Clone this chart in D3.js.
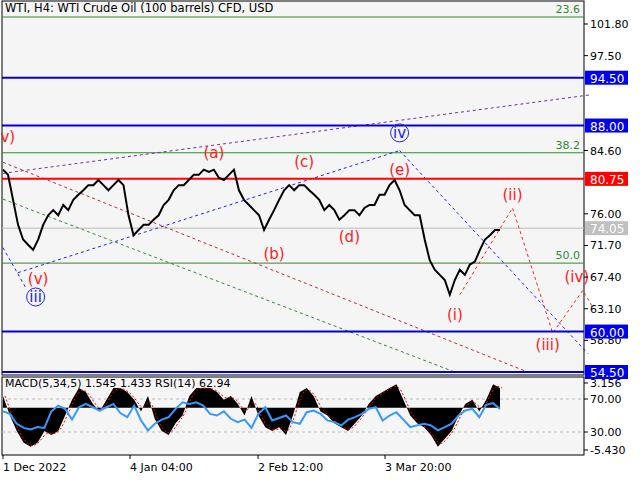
<!DOCTYPE html><html><head><meta charset="utf-8"><script src="https://cdn.jsdelivr.net/npm/d3@7"></script>
<style>body{margin:0;background:#fff}text{font-family:"DejaVu Sans",sans-serif}</style></head><body><svg id="c" width="640" height="480"></svg>
<script>
const prices=[82.0,81.3,77.9,74.5,72.5,71.8,71.1,72.5,74.5,75.8,76.5,75.8,77.2,76.5,77.9,78.6,79.2,79.9,79.9,80.6,79.9,79.2,79.9,80.6,79.9,75.8,73.1,73.8,74.5,74.5,75.2,75.8,77.2,77.9,79.2,79.9,79.9,80.6,81.3,81.3,82.0,81.7,82.0,80.9,80.6,81.3,82.0,79.2,77.9,77.2,76.5,75.8,73.8,75.2,76.5,77.9,79.2,79.9,79.2,79.9,79.9,79.2,78.6,77.9,76.5,77.2,76.5,75.2,75.8,76.5,76.5,75.8,76.8,77.2,77.2,78.6,78.6,79.9,80.6,79.2,77.2,76.5,75.8,75.8,72.5,69.7,68.4,67.7,67.0,65.0,67.0,68.4,67.7,69.1,69.5,71.1,72.5,73.1,73.8,73.8];
const macd=[1.5,-1,-3,-4.5,-5,-4.5,-3,-3.5,-3,-1,1,2.5,2,0.5,-0.5,1,2.5,2.5,2,1,-0.5,1.5,-1.5,-3,-3.5,-2,-1,1.5,2.5,2.5,2.5,2,1,1.5,0.5,-1,1.5,-1,-2.5,-3,-2.5,-3.5,-1,2,2.5,1.5,-0.5,-1,-2,-2.5,-3,-2,-1,0.5,1.5,2,2.5,3,1,-1,-2,-2.5,-3.5,-5,-4,-3,-1,0.5,1,-0.5,1,3,2.5];
const rsi=[55,52,40,35,33,36,35,55,62,58,45,60,64,60,56,60,64,53,48,62,44,32,40,45,48,58,66,64,66,62,52,50,55,46,42,45,35,52,60,44,47,50,42,40,54,56,52,44,42,38,45,48,52,58,60,44,50,54,45,36,38,40,38,32,36,40,50,56,58,48,63,65,58];
const priceTicks=[101.80,97.50,84.60,76.00,71.70,67.40,63.10,58.80];
const blueLevels=[94.50,88.00,60.00,54.50];
const redLevels=[80.75];
const fibLevels=[{v:102.75,t:"23.6"},{v:84.3,t:"38.2"},{v:69.3,t:"50.0"}];
const lastPrice=74.05;
const dateLabels=[{i:0,t:"1 Dec 2022"},{i:25.3,t:"4 Jan 04:00"},{i:50.8,t:"2 Feb 12:00"},{i:76.1,t:"3 Mar 20:00"}];
const subTicks=[{v:3.156,k:"m"},{v:70,k:"r"},{v:30,k:"r"},{v:-5.43,k:"m"}];
const svg=d3.select("#c");
const L=2,R=584,T=1,B=375;
svg.append("rect").attr("x",L).attr("y",T).attr("width",R-L).attr("height",B-T).attr("fill","#f5f5f5").attr("stroke","#000");
svg.append("rect").attr("x",L).attr("y",377).attr("width",R-L).attr("height",78).attr("fill","#f5f5f5").attr("stroke","#000");
const x=d3.scaleLinear().domain([0,prices.length-1]).range([3,500]);
const y=d3.scaleLinear().domain([54.5,101.8]).range([372,24]);
const g=svg.append("g");
fibLevels.forEach(f=>{g.append("line").attr("x1",L).attr("x2",R).attr("y1",y(f.v)).attr("y2",y(f.v)).attr("stroke","#2e8b2e");
 g.append("text").attr("x",580).attr("y",y(f.v)-4).attr("text-anchor","end").attr("font-size",11).attr("fill","#2e8b2e").text(f.t);});
g.append("line").attr("x1",L).attr("x2",R).attr("y1",y(lastPrice)).attr("y2",y(lastPrice)).attr("stroke","#bbb");
const dl=(pts,c)=>g.append("path").attr("d",d3.line()(pts.map(p=>[x(p[0]),y(p[1])]))).attr("fill","none").attr("stroke",c).attr("stroke-dasharray","3,3");
dl([[0,81.5],[117.3,92.2]],"#7030a0");
dl([[3,68],[79,84.6]],"#2020ff");
dl([[0,71.4],[4.5,66]],"#2020ff");
dl([[79,84.6],[116.5,57]],"#2020ff");
dl([[0,83],[104.5,54.5]],"#b03030");
dl([[0,78],[90,54.5]],"#2e8b2e");
dl([[91,65],[101.5,76.8],[109.5,59.8],[115.5,65.6],[117.3,63.5]],"#ff2020");
blueLevels.forEach(v=>g.append("line").attr("x1",L).attr("x2",R).attr("y1",y(v)).attr("y2",y(v)).attr("stroke","#0000dd").attr("stroke-width",2));
redLevels.forEach(v=>g.append("line").attr("x1",L).attr("x2",R).attr("y1",y(v)).attr("y2",y(v)).attr("stroke","#ff0000").attr("stroke-width",2));
g.append("path").attr("d",d3.line().x((d,i)=>x(i)).y(d=>y(d))(prices)).attr("fill","none").attr("stroke","#000").attr("stroke-width",2);
const lab=[["v)",-0.5,86.5,"start"],["(a)",42,84.3],["(b)",54,70.5],["(c)",60,83.0],["(d)",69,72.8],["(e)",79,81.9],["(i)",90,62.3],["(ii)",101.5,78.6],["(iii)",108.5,58.2],["(iv)",114.3,67.4],["(v)",7,67.2]];
lab.forEach(l=>g.append("text").attr("x",x(l[1])).attr("y",y(l[2])+5).attr("text-anchor",l[3]||"middle").attr("font-size",15).attr("fill","#ff2020").text(l[0]));
[["iii",6.5,64.7],["iv",79,87.0]].forEach(l=>{g.append("circle").attr("cx",x(l[1])).attr("cy",y(l[2])).attr("r",9).attr("fill","none").attr("stroke","#2020ff");
 g.append("text").attr("x",x(l[1])).attr("y",y(l[2])+5).attr("text-anchor","middle").attr("font-size",15).attr("fill","#2020ff").text(l[0]);});
g.append("text").attr("x",5).attr("y",12).attr("font-size",11.5).text("WTI, H4:  WTI Crude Oil (100 barrels) CFD, USD");
priceTicks.forEach(v=>{svg.append("line").attr("x1",R).attr("x2",R+4).attr("y1",y(v)).attr("y2",y(v)).attr("stroke","#000");
 svg.append("text").attr("x",590).attr("y",y(v)+4).attr("font-size",11).text(v.toFixed(2));});
const box=(v,c)=>{svg.append("rect").attr("x",585).attr("y",y(v)-7).attr("width",43).attr("height",14).attr("fill",c);
 svg.append("text").attr("x",590).attr("y",y(v)+5).attr("font-size",12).attr("fill","#fff").text(v.toFixed(2));};
blueLevels.forEach(v=>box(v,"#0000ee"));redLevels.forEach(v=>box(v,"#ff0000"));box(lastPrice,"#c0c0c0");
const sx=d3.scaleLinear().domain([0,macd.length-1]).range([3,500]);
const my=d3.scaleLinear().domain([-5.43,3.156]).range([450,383]);
const ry=d3.scaleLinear().domain([30,70]).range([432,399]);
const s=svg.append("g");
[70,30].forEach(v=>s.append("line").attr("x1",L).attr("x2",R).attr("y1",ry(v)).attr("y2",ry(v)).attr("stroke","#bbb").attr("stroke-dasharray","3,3"));
s.append("path").attr("d",d3.area().x((d,i)=>sx(i)).y0(my(0)).y1(d=>my(d))(macd)).attr("fill","#000");
s.append("path").attr("d",d3.line().x((d,i)=>sx(i+0.3)).y(d=>my(d)).curve(d3.curveBasis)(macd)).attr("fill","none").attr("stroke","#f00").attr("stroke-dasharray","2,2");
const rx=d3.scaleLinear().domain([0,rsi.length-1]).range([3,500]);
s.append("path").attr("d",d3.line().x((d,i)=>rx(i)).y(d=>ry(d))(rsi)).attr("fill","none").attr("stroke","#3399ff").attr("stroke-width",2);
s.append("text").attr("x",5).attr("y",387).attr("font-size",11).text("MACD(5,34,5) 1.545 1.433 RSI(14) 62.94");
subTicks.forEach(t=>{const yy=t.k=="m"?my(t.v):ry(t.v);svg.append("line").attr("x1",R).attr("x2",R+4).attr("y1",yy).attr("y2",yy).attr("stroke","#000");
 svg.append("text").attr("x",590).attr("y",yy+4).attr("font-size",11).text(t.k=="m"?t.v.toFixed(3):t.v.toFixed(2));});
dateLabels.forEach(d=>{const xx=x(d.i);svg.append("line").attr("x1",xx).attr("x2",xx).attr("y1",455).attr("y2",459).attr("stroke","#000");
 svg.append("text").attr("x",xx).attr("y",471).attr("font-size",11).text(d.t);});
</script></body></html>
